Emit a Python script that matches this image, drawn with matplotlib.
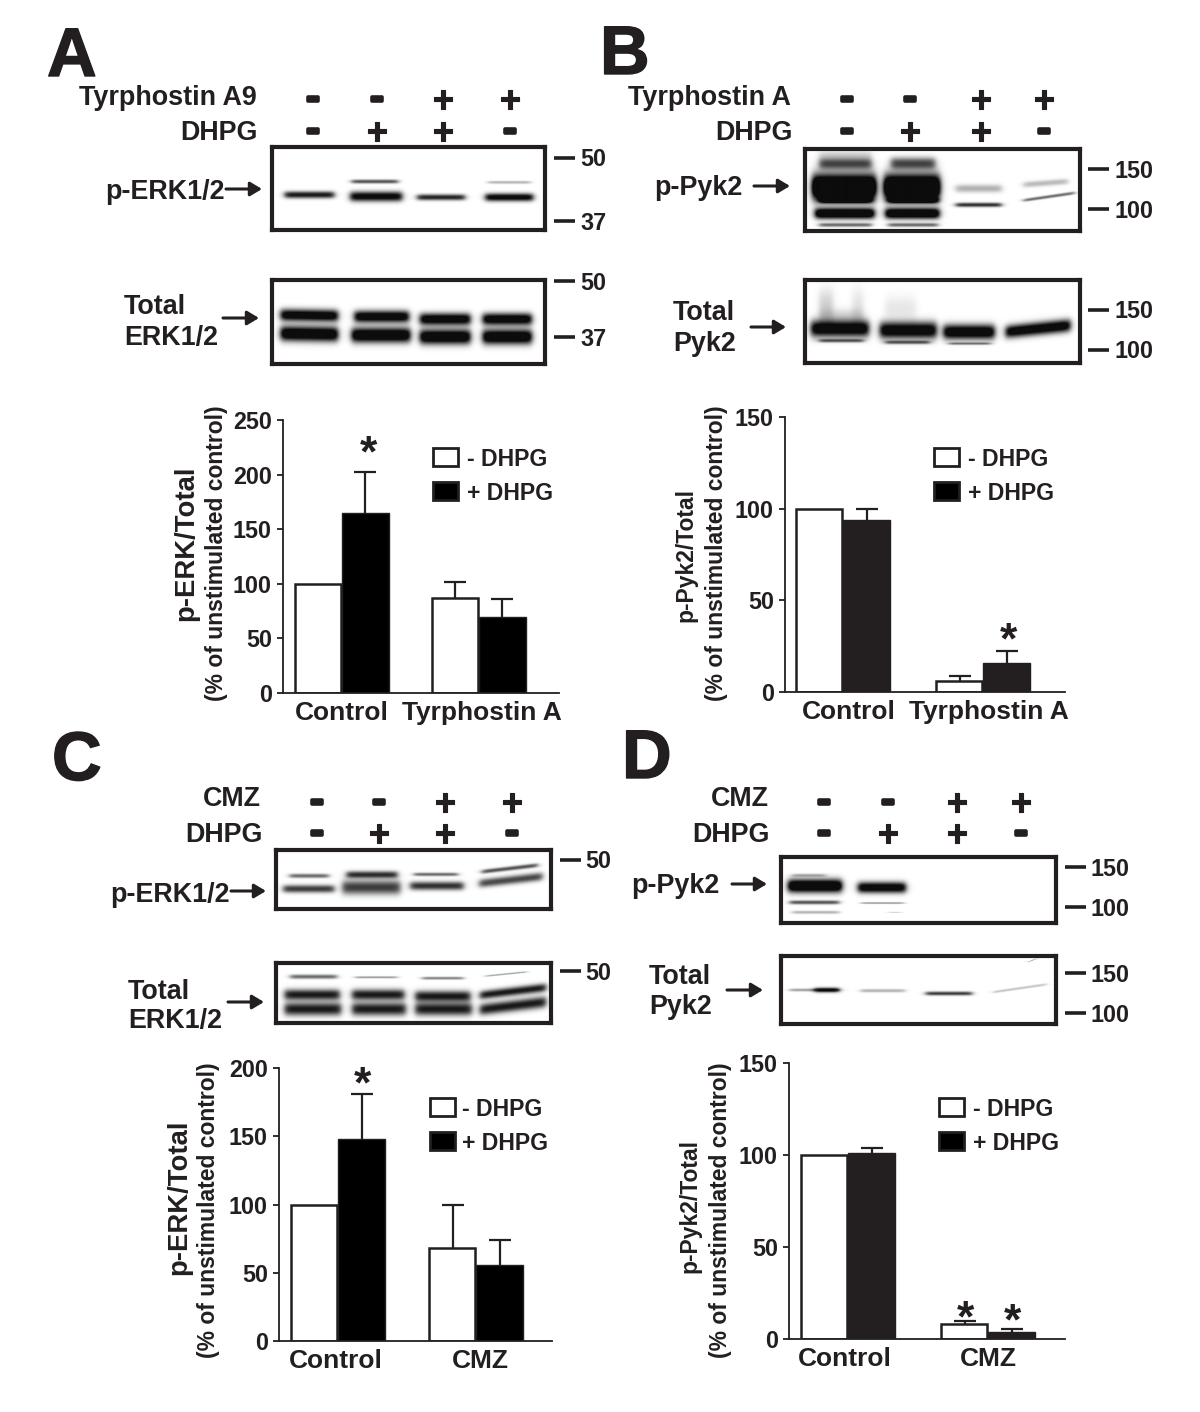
import numpy as np
import matplotlib
matplotlib.use('Agg')
import matplotlib.pyplot as plt
import matplotlib.patheffects as pe
from matplotlib.patches import Rectangle

plt.rcParams['font.family'] = ['Liberation Sans', 'DejaVu Sans']
plt.rcParams['font.weight'] = 'bold'

INK = '#231f20'
W, H = 1200, 1412

# bar values
a_white, a_white_err = [100, 87], [0, 15]
a_black, a_black_err = [165, 70], [37, 16]
b_white, b_white_err = [100, 6], [0, 3]
b_black, b_black_err = [94, 16], [6, 6.5]
c_white, c_white_err = [100, 68], [0, 32]
c_black, c_black_err = [148, 56], [33, 18]
d_white, d_white_err = [100, 8], [0, 2]
d_black, d_black_err = [101, 4], [3, 1.5]

a_ticks = [0, 50, 100, 150, 200, 250]
b_ticks = [0, 50, 100, 150]
c_ticks = [0, 50, 100, 150, 200]
d_ticks = [0, 50, 100, 150]

tyr_groups = ['Control', 'Tyrphostin A']
cmz_groups = ['Control', 'CMZ']

# +/- rows on top of each blot
row1_signs = ['-', '-', '+', '+']
row2_signs = ['-', '+', '+', '-']

# blot bands: x start, x end, y left, y right, half height, darkness (box fractions)
a1_bands = [(.045, .226, .57, .57, .035, .95), (.29, .46, .41, .41, .02, .7),
            (.285, .475, .59, .59, .05, 1.1), (.53, .705, .60, .60, .03, .9),
            (.79, .945, .42, .42, .015, .3), (.78, .955, .60, .60, .04, 1.1)]
a2_bands = [(.03, .24, .41, .42, .06, 1.2), (.30, .50, .43, .43, .06, 1.2),
            (.54, .725, .46, .46, .06, 1.2), (.77, .95, .46, .46, .06, 1.2),
            (.03, .24, .63, .64, .075, 1.3), (.29, .505, .65, .65, .075, 1.3),
            (.54, .725, .67, .67, .075, 1.3), (.77, .95, .67, .67, .075, 1.3)]
b1_bands = [(.05, .24, .06, .06, .04, .15), (.05, .24, .17, .17, .06, .75),
            (.025, .256, .46, .46, .13, 1.8), (.05, .24, .62, .62, .03, .95),
            (.035, .25, .78, .78, .055, 1.4), (.05, .24, .92, .92, .02, .6),
            (.31, .47, .17, .17, .06, .75), (.285, .487, .46, .46, .13, 1.8),
            (.30, .48, .62, .62, .03, .95), (.29, .485, .78, .78, .055, 1.4),
            (.30, .48, .92, .92, .02, .6),
            (.545, .71, .476, .476, .04, .32), (.545, .71, .675, .675, .022, .85),
            (.79, .95, .43, .39, .03, .28), (.79, .975, .62, .53, .016, .6)]
b2_bands = [(.05, .10, .30, .30, .16, .2), (.17, .21, .30, .30, .16, .12),
            (.05, .21, .42, .42, .07, .15), (.02, .23, .58, .58, .085, 1.2),
            (.05, .21, .725, .725, .018, .6), (.29, .40, .34, .34, .12, .1),
            (.27, .475, .60, .60, .085, 1.2), (.29, .45, .745, .745, .018, .6),
            (.5, .685, .62, .62, .075, 1.25), (.52, .67, .76, .76, .013, .5),
            (.725, .96, .62, .54, .065, 1.2)]
c1_bands = [(.048, .19, .43, .43, .03, .6), (.025, .21, .65, .65, .055, .8),
            (.255, .44, .41, .41, .05, .85), (.24, .45, .625, .625, .10, .8),
            (.50, .66, .405, .405, .025, .6), (.487, .68, .60, .60, .06, .85),
            (.747, .95, .36, .25, .03, .7), (.738, .967, .56, .44, .06, .75)]
c2_bands = [(.05, .22, .22, .22, .03, .6), (.286, .44, .23, .23, .015, .4),
            (.53, .68, .245, .245, .02, .5), (.76, .91, .21, .14, .012, .35),
            (.03, .23, .52, .52, .075, .95), (.275, .465, .52, .52, .075, .95),
            (.505, .705, .545, .545, .075, .95), (.74, .98, .53, .40, .06, .95),
            (.03, .235, .76, .76, .09, .95), (.275, .47, .76, .76, .09, .95),
            (.505, .71, .76, .76, .09, .95), (.74, .98, .77, .64, .08, .95)]
d1_bands = [(.024, .22, .43, .43, .085, 1.4), (.03, .21, .68, .68, .025, .7),
            (.04, .21, .83, .83, .02, .3), (.04, .16, .27, .27, .02, .3),
            (.278, .452, .455, .455, .07, 1.2), (.29, .445, .69, .69, .012, .4),
            (.39, .435, .83, .83, .008, .2)]
d2_bands = [(.03, .21, .50, .50, .015, .45), (.12, .21, .50, .50, .03, .9),
            (.288, .449, .51, .51, .018, .35), (.525, .693, .55, .55, .022, .85),
            (.77, .963, .53, .42, .012, .3), (.90, .925, .09, .05, .008, .4)]


def px_axes(fig, x0, y0, x1, y1, **kw):
    # axes from picture pixels, y going down
    return fig.add_axes([x0 / W, 1 - y1 / H, (x1 - x0) / W, (y1 - y0) / H], **kw)


def draw_blot(fig, box, bands):
    x0, y0, x1, y1 = box
    bw, bh = x1 - x0, y1 - y0
    yy, xx = np.mgrid[0:bh, 0:bw]
    fx, fy = xx / bw, yy / bh
    dark = np.zeros_like(fx)
    for bx0, bx1, by0, by1, hh, d in bands:
        t = np.clip((fx - bx0) / (bx1 - bx0), 0, 1)
        yc = by0 + (by1 - by0) * t
        edge = 0.25 * (1 + np.tanh((xx - bx0 * bw) / 3.5)) * (1 + np.tanh((bx1 * bw - xx) / 3.5))
        dark += d * edge * np.exp(-np.abs((fy - yc) / (hh * 1.2)) ** 2.2)
    ax = px_axes(fig, x0, y0, x1, y1)
    ax.imshow(1 - 0.95 * np.clip(dark, 0, 1), cmap='gray', vmin=0, vmax=1, aspect='auto')
    ax.set_xticks([])
    ax.set_yticks([])
    for s in ax.spines.values():
        s.set_linewidth(3)
        s.set_color(INK)


def draw_bars(fig, rect, ymax, ticks, white, white_err, black, black_err, starts, groups, label_x,
              fc_black='black'):
    x0, y0, x1, y1 = rect
    ax = px_axes(fig, x0, y0, x1, y1)
    ax.patch.set_alpha(0)
    ax.set_xlim(x0, x1)
    ax.set_ylim(0, ymax)
    bw = 47
    for i, st in enumerate(starts):
        for xc, val, err in ((st + bw / 2, white[i], white_err[i]), (st + bw * 1.5, black[i], black_err[i])):
            if err:
                eb = ax.errorbar(xc, val, yerr=[[0], [err]], color=INK, lw=1.6,
                                 capsize=8, capthick=1.6, zorder=1)
                eb[1][0].set_visible(False)
        ax.bar(st, white[i], bw - 1, align='edge', color='white', edgecolor=INK, lw=1.8, zorder=2)
        ax.bar(st + bw, black[i], bw, align='edge', color=fc_black, edgecolor=INK, lw=1, zorder=2)
    for s in ('top', 'right'):
        ax.spines[s].set_visible(False)
    for s in ('left', 'bottom'):
        ax.spines[s].set_linewidth(1.3)
        ax.spines[s].set_color(INK)
    ax.set_yticks(ticks)
    ax.tick_params(axis='y', length=4, width=1.3, labelsize=16.8, pad=4, colors=INK)
    ax.set_xticks(label_x)
    ax.set_xticklabels(groups)
    ax.tick_params(axis='x', length=0, labelsize=19, pad=6, colors=INK)
    return ax


fig = plt.figure(figsize=(12, 14.12), dpi=100)

draw_blot(fig, (272, 147, 545, 230), a1_bands)
draw_blot(fig, (272, 280, 545, 364), a2_bands)
draw_blot(fig, (805, 149, 1080, 231), b1_bands)
draw_blot(fig, (805, 280, 1080, 363), b2_bands)
draw_blot(fig, (276, 850, 551, 909), c1_bands)
draw_blot(fig, (276, 963, 551, 1023), c2_bands)
draw_blot(fig, (781, 857, 1056, 923), d1_bands)
draw_blot(fig, (781, 956, 1056, 1024), d2_bands)

draw_bars(fig, (283, 420, 559, 693), 250, a_ticks, a_white, a_white_err, a_black, a_black_err,
          [295, 432], tyr_groups, [342, 482])
draw_bars(fig, (785, 417, 1065, 692), 150, b_ticks, b_white, b_white_err, b_black, b_black_err,
          [796, 936], tyr_groups, [849, 989], fc_black=INK)
draw_bars(fig, (279, 1068, 552, 1341), 200, c_ticks, c_white, c_white_err, c_black, c_black_err,
          [291, 429], cmz_groups, [336, 480])
draw_bars(fig, (789, 1063, 1065, 1339), 150, d_ticks, d_white, d_white_err, d_black, d_black_err,
          [801, 941], cmz_groups, [845, 988], fc_black=INK)

# everything else sits on a transparent overlay in picture pixels
ov = fig.add_axes([0, 0, 1, 1], zorder=10)
ov.set_xlim(0, W)
ov.set_ylim(H, 0)
ov.axis('off')
ov.patch.set_alpha(0)


def label(x, y, s, size=19.4, ha='left', **kw):
    ov.text(x, y + 2, s, fontsize=size, ha=ha, va='center', color=INK, **kw)


def arrow(x0, x1, y):
    ov.annotate('', xy=(x1, y), xytext=(x0, y),
                arrowprops=dict(arrowstyle='-|>,head_length=0.7,head_width=0.42', color=INK,
                                lw=2.2, shrinkA=0, shrinkB=0))


def signs(xs, y1, y2):
    # DejaVu has the wider plus, closer to the reference than Liberation
    for y, row in ((y1, row1_signs), (y2, row2_signs)):
        for x, s in zip(xs, row):
            if s == '+':
                ov.text(x, y + 1, s, fontsize=21.5, family='DejaVu Sans', ha='center', va='center',
                        color=INK, path_effects=[pe.withStroke(linewidth=0.8, foreground=INK)])
            else:
                ov.text(x, y, s, fontsize=21.5, family='DejaVu Sans', ha='center', va='center',
                        color=INK, path_effects=[pe.withStroke(linewidth=2.6, foreground=INK)])


def mw(x0, x_text, ys, labels):
    for y, s in zip(ys, labels):
        ov.plot([x0, x0 + 21], [y, y], color=INK, lw=2.6, solid_capstyle='butt')
        label(x_text, y, s, size=16.8)


def legend(x0, x_text, y1, y2):
    ov.add_patch(Rectangle((x0, y1), 25, 18, fc='white', ec=INK, lw=2))
    ov.add_patch(Rectangle((x0, y2), 25, 18, fc='black', ec=INK, lw=2))
    label(x_text, y1 + 9, '- DHPG', size=16.6)
    label(x_text, y2 + 9, '+ DHPG', size=16.6)


def ylabels(x1, y1, s1, size1, x2, y2):
    ov.text(x1, y1, s1, fontsize=size1, rotation=90, ha='center', va='center', color=INK)
    ov.text(x2, y2, '(% of unstimulated control)', fontsize=16.5, rotation=90, ha='center',
            va='center', color=INK)


# panel letters
for x, y, s in ((47, 58, 'A'), (600, 56, 'B'), (52, 762, 'C'), (622, 760, 'D')):
    ov.text(x, y, s, fontsize=49.5, ha='left', va='center', color=INK,
            path_effects=[pe.withStroke(linewidth=1, foreground=INK)])

# panel A
label(257, 96, 'Tyrphostin A9', ha='right')
label(258, 131, 'DHPG', ha='right')
signs([313, 377, 443, 510], 99, 131)
label(105, 190, 'p-ERK1/2')
arrow(226, 262, 189)
label(124, 305, 'Total')
label(124, 336, 'ERK1/2')
arrow(223, 259, 318)
mw(554, 580, [158, 221, 281, 337], ['50', '37', '50', '37'])
legend(433, 467, 448, 482)
ylabels(186, 543, 'p-ERK/Total', 19.8, 216, 553)
ov.text(368, 455, '*', fontsize=32, ha='center', va='center', color=INK)

# panel B
label(791, 96, 'Tyrphostin A', ha='right')
label(793, 131, 'DHPG', ha='right')
signs([847, 910, 981, 1044], 99, 131)
label(654, 186, 'p-Pyk2')
arrow(754, 790, 186)
label(673, 311, 'Total')
label(673, 342, 'Pyk2')
arrow(751, 786, 327)
mw(1088, 1114, [169, 209, 310, 350], ['150', '100', '150', '100'])
legend(934, 968, 448, 482)
ylabels(686, 555, 'p-Pyk2/Total', 16.5, 716, 553)
ov.text(1008, 642, '*', fontsize=32, ha='center', va='center', color=INK)

# panel C
label(261, 797, 'CMZ', ha='right')
label(263, 833, 'DHPG', ha='right')
signs([317, 379, 445, 512], 802, 833)
label(110, 893, 'p-ERK1/2')
arrow(231, 266, 891)
label(128, 990, 'Total')
label(128, 1019, 'ERK1/2')
arrow(228, 264, 1002)
mw(560, 585, [860, 971], ['50', '50'])
legend(430, 462, 1098, 1132)
ylabels(179, 1197, 'p-ERK/Total', 19.8, 209, 1210)
ov.text(362, 1086, '*', fontsize=32, ha='center', va='center', color=INK)

# panel D
label(769, 797, 'CMZ', ha='right')
label(770, 833, 'DHPG', ha='right')
signs([824, 888, 957, 1021], 802, 833)
label(631, 884, 'p-Pyk2')
arrow(732, 767, 884)
label(649, 975, 'Total')
label(649, 1005, 'Pyk2')
arrow(727, 763, 990)
mw(1065, 1091, [867, 907, 973, 1013], ['150', '100', '150', '100'])
legend(939, 973, 1098, 1132)
ylabels(690, 1206, 'p-Pyk2/Total', 16.5, 720, 1210)
ov.text(965, 1320, '*', fontsize=32, ha='center', va='center', color=INK)
ov.text(1012, 1323, '*', fontsize=32, ha='center', va='center', color=INK)

fig.savefig('out.png', dpi=100)
